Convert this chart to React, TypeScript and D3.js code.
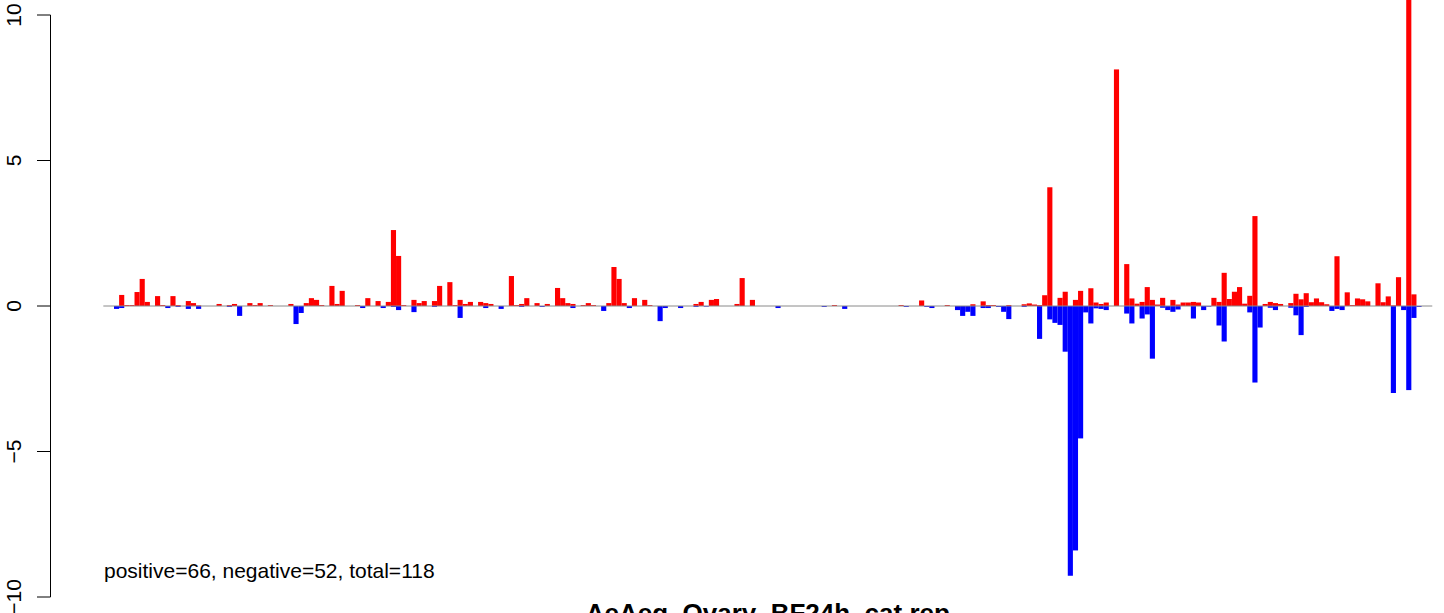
import React from "react";
import * as d3 from "d3";

// Positive (red) values per category, index 0..254
const posValues: number[] = [
  0, 0.38, 0.03, 0.03, 0.48, 0.93, 0.14, 0, 0.34, 0.03,
  0, 0.34, 0.03, 0, 0.17, 0.10, 0.02, 0, 0, 0,
  0.07, 0, 0.03, 0.07, 0, 0, 0.10, 0.03, 0.10, 0,
  0.03, 0, 0, 0, 0.07, 0, 0, 0.10, 0.27, 0.21,
  0.03, 0, 0.69, 0.07, 0.52, 0, 0, 0.03, 0, 0.27,
  0, 0.17, 0, 0.14, 2.61, 1.72, 0.03, 0, 0.21, 0.10,
  0.17, 0, 0.17, 0.69, 0, 0.82, 0.03, 0.21, 0.07, 0.14,
  0, 0.14, 0.10, 0.07, 0, 0, 0, 1.03, 0.03, 0.07,
  0.27, 0, 0.10, 0, 0.07, 0, 0.62, 0.27, 0.10, 0.07,
  0, 0.03, 0.10, 0.03, 0, 0, 0.10, 1.34, 0.93, 0.10,
  0, 0.27, 0, 0.21, 0.03, 0, 0, 0, 0, 0,
  0, 0, 0, 0.07, 0.14, 0, 0.21, 0.24, 0, 0,
  0, 0.07, 0.96, 0, 0.21, 0, 0, 0, 0, 0,
  0, 0, 0, 0, 0, 0, 0, 0, 0, 0,
  0.03, 0, 0, 0, 0, 0, 0, 0, 0, 0,
  0, 0, 0, 0.03, 0, 0, 0, 0.19, 0, 0,
  0, 0, 0.03, 0, 0, 0, 0, 0.06, 0, 0.16,
  0.03, 0.03, 0, 0, 0.03, 0, 0, 0.06, 0.09, 0.05,
  0.03, 0.37, 4.08, 0, 0.28, 0.49, 0, 0.21, 0.52, 0,
  0.61, 0.12, 0.07, 0.12, 0, 8.13, 0, 1.44, 0.26, 0.08,
  0.14, 0.65, 0.21, 0.05, 0.28, 0, 0.21, 0.05, 0.12, 0.12,
  0.14, 0.12, 0, 0, 0.28, 0.14, 1.14, 0.24, 0.49, 0.65,
  0.08, 0.35, 3.09, 0, 0.07, 0.14, 0.10, 0.07, 0, 0.10,
  0.42, 0.23, 0.44, 0.13, 0.26, 0.13, 0.06, 0, 1.71, 0,
  0.47, 0.03, 0.26, 0.23, 0.16, 0, 0.78, 0.13, 0.33, 0.02,
  0.99, 0, 11, 0.40, 0,
];

// Negative (blue) values: [category index, value]
const negEntries: [number, number][] = [
  [0, -0.10], [1, -0.07], [10, -0.07], [12, -0.03], [14, -0.10], [16, -0.10],
  [22, -0.03], [24, -0.34], [35, -0.62], [36, -0.24], [48, -0.07], [52, -0.07],
  [54, -0.03], [55, -0.14], [58, -0.21], [62, -0.03], [67, -0.41], [72, -0.07],
  [75, -0.10], [79, -0.03], [83, -0.03], [89, -0.07], [95, -0.17], [100, -0.07],
  [106, -0.52], [107, -0.07], [110, -0.07], [113, -0.03], [115, -0.02], [129, -0.07],
  [138, -0.03], [142, -0.10], [154, -0.03], [158, -0.03], [159, -0.07], [164, -0.14],
  [165, -0.34], [166, -0.20], [167, -0.34], [169, -0.07], [170, -0.07], [172, -0.03],
  [173, -0.20], [174, -0.45], [177, -0.03], [180, -1.13], [182, -0.46], [183, -0.58],
  [184, -0.65], [185, -1.57], [186, -9.27], [187, -8.40], [188, -4.55], [189, -0.22],
  [190, -0.60], [191, -0.08], [192, -0.10], [193, -0.14], [197, -0.26], [198, -0.60],
  [200, -0.43], [201, -0.29], [202, -1.81], [204, -0.06], [205, -0.14], [206, -0.20],
  [207, -0.12], [210, -0.43], [212, -0.14], [213, -0.02], [215, -0.67], [216, -1.22],
  [221, -0.22], [222, -2.63], [223, -0.74], [225, -0.06], [226, -0.14], [229, -0.06],
  [230, -0.32], [231, -1.00], [232, -0.03], [237, -0.17], [238, -0.10], [239, -0.14],
  [249, -2.99], [251, -0.14], [252, -2.89], [253, -0.41], [254, -0.03],
];

const yTicks: number[] = [-10, -5, 0, 5, 10];
const titleText = "AeAeg_Ovary_BF24h_cat.rep";
const summaryText = "positive=66, negative=52, total=118";

const W = 1444;
const H = 613;

export default function App() {
  const n = posValues.length;
  const negValues: number[] = new Array(n).fill(0);
  negEntries.forEach(([i, v]) => {
    negValues[i] = v;
  });
  const idx = d3.range(n);

  const x = d3.scaleBand<number>().domain(idx).range([114, 1421.6]).padding(0);
  const step = x.step();
  const plotLeft = 114 - 2.08 * step;
  const plotRight = 1421.6 + 2.08 * step;
  const y = d3.scaleLinear().domain([-10, 10]).range([597, 15]);
  const fmt = (v: number) => (v < 0 ? "\u2212" + Math.abs(v) : String(v));
  const font = "'Liberation Sans', Arial, Helvetica, sans-serif";

  return (
    <svg
      width={W}
      height={H}
      style={{ position: "absolute", left: 0, top: 0, background: "#fff" }}
      fontFamily={font}
    >
      <rect x={0} y={0} width={W} height={H} fill="#ffffff" />
      {idx.map((i) =>
        posValues[i] > 0 ? (
          <rect
            key={"p" + i}
            x={x(i)}
            y={y(posValues[i])}
            width={step}
            height={y(0) - y(posValues[i])}
            fill="#ff0000"
          />
        ) : null
      )}
      {idx.map((i) =>
        negValues[i] < 0 ? (
          <rect
            key={"n" + i}
            x={x(i)}
            y={y(0)}
            width={step}
            height={y(negValues[i]) - y(0)}
            fill="#0000ff"
          />
        ) : null
      )}
      <line x1={plotLeft} x2={plotRight} y1={y(0)} y2={y(0)} stroke="#8a8a8a" strokeWidth={1} />
      {/* y axis */}
      <line x1={50.5} x2={50.5} y1={y(10)} y2={y(-10)} stroke="#000" strokeWidth={1} />
      {yTicks.map((t) => (
        <g key={t}>
          <line x1={37} x2={50.5} y1={y(t)} y2={y(t)} stroke="#000" strokeWidth={1} />
          <text
            transform={`translate(20.5, ${y(t)}) rotate(-90)`}
            textAnchor="middle"
            fontSize={21}
            fill="#000"
          >
            {fmt(t)}
          </text>
        </g>
      ))}
      <text x={104} y={578} fontSize={21} fill="#000">
        {summaryText}
      </text>
      <text
        x={(plotLeft + plotRight) / 2}
        y={622}
        fontSize={26}
        fontWeight="bold"
        textAnchor="middle"
        fill="#000"
      >
        {titleText}
      </text>
    </svg>
  );
}
